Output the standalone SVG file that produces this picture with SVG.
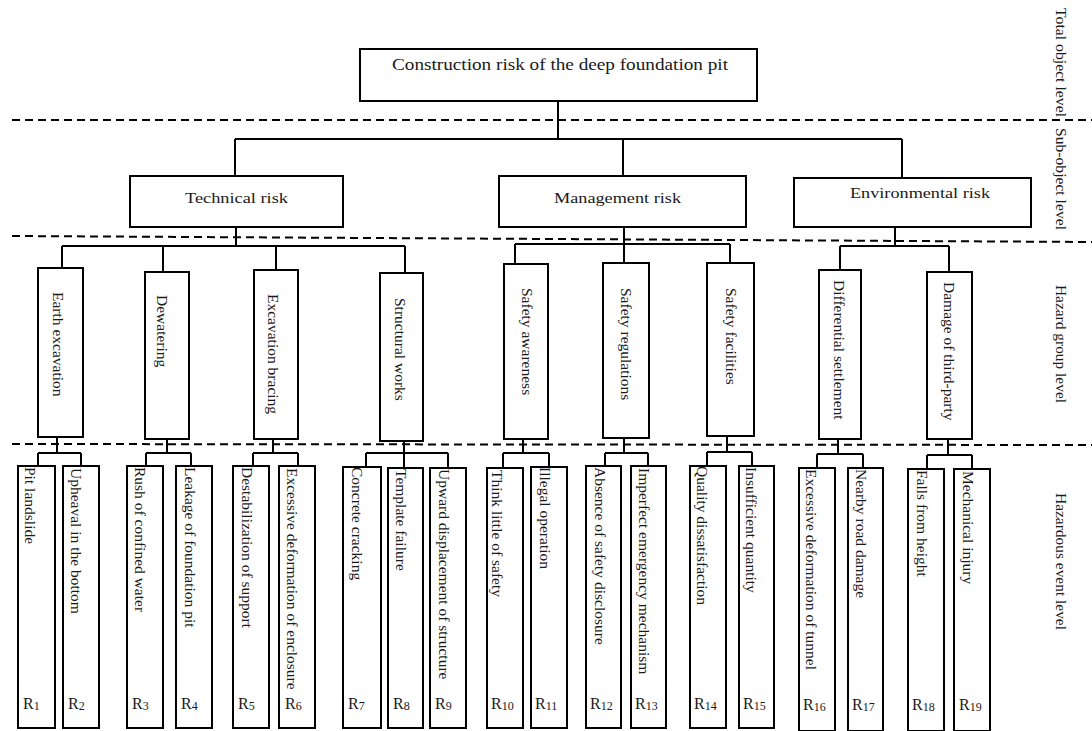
<svg xmlns="http://www.w3.org/2000/svg" width="1092" height="731" viewBox="0 0 1092 731">
<style>
.box{fill:#fff;stroke:#000;stroke-width:2}
.conn{fill:none;stroke:#000;stroke-width:2}
.dash{fill:none;stroke:#000;stroke-width:2;stroke-dasharray:8 5}
.t{font-family:"Liberation Serif","Times New Roman",serif;font-size:15.5px;fill:#1a1a1a}
.h{font-family:"Liberation Serif","Times New Roman",serif;font-size:16px;fill:#1a1a1a}
.r{font-family:"Liberation Serif","Times New Roman",serif;font-size:16px;fill:#1a1a1a}
.s{font-size:12px}
</style>
<rect width="1092" height="731" fill="#fff"/>
<g id="level-lines">
<path class="dash" d="M12,120 H1092"/>
<path class="dash" d="M12,236 L1092,242"/>
<path class="dash" d="M12,444 L1092,445"/>
</g>
<g id="level-labels">
<text class="t" transform="translate(1056,8) rotate(90)" textLength="109" lengthAdjust="spacingAndGlyphs">Total object level</text>
<text class="t" transform="translate(1056,128) rotate(90)" textLength="102" lengthAdjust="spacingAndGlyphs">Sub-object level</text>
<text class="t" transform="translate(1056,285) rotate(90)" textLength="118" lengthAdjust="spacingAndGlyphs">Hazard group level</text>
<text class="t" transform="translate(1056,493) rotate(90)" textLength="137" lengthAdjust="spacingAndGlyphs">Hazardous event level</text>
</g>
<g id="connectors">
<path class="conn" d="M558,101 V139 M235,139 H902 M235,139 V176 M623,139 V176 M902,139 V178"/>
<path class="conn" d="M236,227 V246 M62,246 H405 M62,246 V268 M163,246 V272 M276,246 V270 M405,246 V273"/>
<path class="conn" d="M624,227 V263 M515,244 H730 M515,244 V264 M730,244 V263"/>
<path class="conn" d="M895,227 V246 M840,246 H949 M840,246 V270 M949,246 V272"/>
<path class="conn" d="M57,437 V453 M38,453 H81 M38,453 V466 M81,453 V466"/>
<path class="conn" d="M167,439 V453 M146,453 H191 M146,453 V466 M191,453 V466"/>
<path class="conn" d="M273,439 V453 M253,453 H298 M253,453 V466 M298,453 V466"/>
<path class="conn" d="M404,441 V468 M366,453 H448 M366,453 V467 M448,453 V468"/>
<path class="conn" d="M523,439 V453 M503,453 H549 M503,453 V468 M549,453 V467"/>
<path class="conn" d="M624,438 V453 M605,453 H648 M605,453 V466 M648,453 V466"/>
<path class="conn" d="M727,436 V452 M707,452 H752 M707,452 V466 M752,452 V466"/>
<path class="conn" d="M838,439 V454 M817,454 H863 M817,454 V468 M863,454 V468"/>
<path class="conn" d="M948,439 V455 M927,455 H972 M927,455 V469 M972,455 V469"/>
</g>
<g id="root"><rect class="box" x="360" y="49" width="397" height="52"/><text class="h" x="392" y="70" textLength="336" lengthAdjust="spacingAndGlyphs">Construction risk of the deep foundation pit</text></g>
<g id="technical-risk"><rect class="box" x="130" y="176" width="213" height="51"/><text class="t" x="185" y="203" textLength="103" lengthAdjust="spacingAndGlyphs">Technical risk</text></g>
<g id="management-risk"><rect class="box" x="499" y="176" width="247" height="51"/><text class="t" x="554" y="203" textLength="127" lengthAdjust="spacingAndGlyphs">Management risk</text></g>
<g id="environmental-risk"><rect class="box" x="794" y="178" width="237" height="49"/><text class="t" x="850" y="198" textLength="140" lengthAdjust="spacingAndGlyphs">Environmental risk</text></g>
<g id="earth-excavation"><rect class="box" x="38" y="268" width="45" height="169"/><text class="t" transform="translate(53,292) rotate(90)">Earth excavation</text></g>
<g id="dewatering"><rect class="box" x="145" y="272" width="44" height="167"/><text class="t" transform="translate(157,295) rotate(90)">Dewatering</text></g>
<g id="excavation-bracing"><rect class="box" x="254" y="270" width="44" height="169"/><text class="t" transform="translate(268,294) rotate(90)">Excavation bracing</text></g>
<g id="structural-works"><rect class="box" x="380" y="273" width="43" height="168"/><text class="t" transform="translate(395,298) rotate(90)">Structural works</text></g>
<g id="safety-awareness"><rect class="box" x="504" y="264" width="44" height="175"/><text class="t" transform="translate(522,288) rotate(90)">Safety awareness</text></g>
<g id="safety-regulations"><rect class="box" x="603" y="263" width="46" height="175"/><text class="t" transform="translate(621,288) rotate(90)">Safety regulations</text></g>
<g id="safety-facilities"><rect class="box" x="707" y="263" width="47" height="173"/><text class="t" transform="translate(726,288) rotate(90)">Safety facilities</text></g>
<g id="differential-settlement"><rect class="box" x="819" y="270" width="42" height="169"/><text class="t" transform="translate(834,280) rotate(90)">Differential settlement</text></g>
<g id="damage-third-party"><rect class="box" x="927" y="272" width="45" height="167"/><text class="t" transform="translate(944,282) rotate(90)">Damage of third-party</text></g>
<g id="R1"><rect class="box" x="18" y="466" width="37" height="262"/><text class="t" transform="translate(25,467) rotate(90)">Pit landslide</text><text class="r" x="23" y="709">R<tspan class="s" dy="1">1</tspan></text></g>
<g id="R2"><rect class="box" x="63" y="466" width="36" height="262"/><text class="t" transform="translate(71,468) rotate(90)">Upheaval in the bottom</text><text class="r" x="68" y="709">R<tspan class="s" dy="1">2</tspan></text></g>
<g id="R3"><rect class="box" x="127" y="466" width="36" height="262"/><text class="t" transform="translate(135,467) rotate(90)">Rush of confined water</text><text class="r" x="132" y="709">R<tspan class="s" dy="1">3</tspan></text></g>
<g id="R4"><rect class="box" x="176" y="466" width="36" height="262"/><text class="t" transform="translate(185,467) rotate(90)">Leakage of foundation pit</text><text class="r" x="181" y="709">R<tspan class="s" dy="1">4</tspan></text></g>
<g id="R5"><rect class="box" x="233" y="466" width="36" height="262"/><text class="t" transform="translate(242,467) rotate(90)">Destabilization of support</text><text class="r" x="238" y="709">R<tspan class="s" dy="1">5</tspan></text></g>
<g id="R6"><rect class="box" x="279" y="466" width="36" height="262"/><text class="t" transform="translate(287,468) rotate(90)">Excessive deformation of enclosure</text><text class="r" x="285" y="709">R<tspan class="s" dy="1">6</tspan></text></g>
<g id="R7"><rect class="box" x="343" y="467" width="38" height="261"/><text class="t" transform="translate(352,467) rotate(90)">Concrete cracking</text><text class="r" x="348" y="709">R<tspan class="s" dy="1">7</tspan></text></g>
<g id="R8"><rect class="box" x="388" y="468" width="35" height="260"/><text class="t" transform="translate(396,469) rotate(90)">Template failure</text><text class="r" x="393" y="709">R<tspan class="s" dy="1">8</tspan></text></g>
<g id="R9"><rect class="box" x="430" y="468" width="36" height="260"/><text class="t" transform="translate(439,469) rotate(90)">Upward displacement of structure</text><text class="r" x="435" y="709">R<tspan class="s" dy="1">9</tspan></text></g>
<g id="R10"><rect class="box" x="487" y="468" width="36" height="260"/><text class="t" transform="translate(492,470) rotate(90)">Think little of safety</text><text class="r" x="491" y="709">R<tspan class="s" dy="1">10</tspan></text></g>
<g id="R11"><rect class="box" x="531" y="467" width="36" height="261"/><text class="t" transform="translate(540,467) rotate(90)">Illegal operation</text><text class="r" x="535" y="709">R<tspan class="s" dy="1">11</tspan></text></g>
<g id="R12"><rect class="box" x="586" y="466" width="35" height="262"/><text class="t" transform="translate(595,467) rotate(90)">Absence of safety disclosure</text><text class="r" x="590" y="709">R<tspan class="s" dy="1">12</tspan></text></g>
<g id="R13"><rect class="box" x="631" y="466" width="35" height="262"/><text class="t" transform="translate(639,468) rotate(90)">Imperfect emergency mechanism</text><text class="r" x="635" y="709">R<tspan class="s" dy="1">13</tspan></text></g>
<g id="R14"><rect class="box" x="690" y="466" width="36" height="262"/><text class="t" transform="translate(697,466) rotate(90)">Quality dissatisfaction</text><text class="r" x="694" y="709">R<tspan class="s" dy="1">14</tspan></text></g>
<g id="R15"><rect class="box" x="739" y="466" width="35" height="262"/><text class="t" transform="translate(746,467) rotate(90)">Insufficient quantity</text><text class="r" x="743" y="709">R<tspan class="s" dy="1">15</tspan></text></g>
<g id="R16"><rect class="box" x="799" y="468" width="36" height="263"/><text class="t" transform="translate(806,469) rotate(90)">Excessive deformation of tunnel</text><text class="r" x="803" y="710">R<tspan class="s" dy="1">16</tspan></text></g>
<g id="R17"><rect class="box" x="848" y="468" width="35" height="263"/><text class="t" transform="translate(856,469) rotate(90)">Nearby road damage</text><text class="r" x="852" y="710">R<tspan class="s" dy="1">17</tspan></text></g>
<g id="R18"><rect class="box" x="908" y="469" width="36" height="262"/><text class="t" transform="translate(917,470) rotate(90)">Falls from height</text><text class="r" x="912" y="710">R<tspan class="s" dy="1">18</tspan></text></g>
<g id="R19"><rect class="box" x="954" y="469" width="36" height="262"/><text class="t" transform="translate(963,471) rotate(90)">Mechanical injury</text><text class="r" x="959" y="710">R<tspan class="s" dy="1">19</tspan></text></g>
</svg>
